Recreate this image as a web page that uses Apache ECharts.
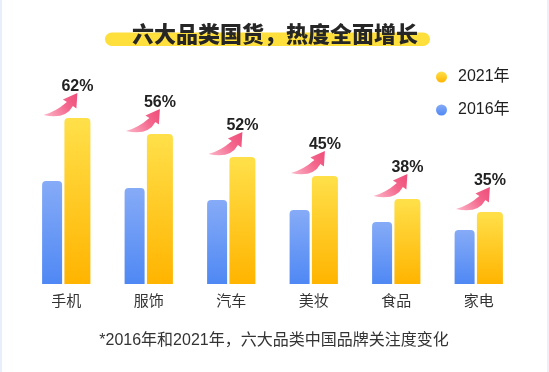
<!DOCTYPE html>
<html>
<head>
<meta charset="utf-8">
<script src="https://cdn.jsdelivr.net/npm/echarts@6/dist/echarts.min.js"></script>
<style>
html,body{margin:0;padding:0;background:#fff;}
#c{width:549px;height:372px;}
</style>
</head>
<body>
<div id="c"></div>
<script>
const categories = ['手机', '服饰', '汽车', '美妆', '食品', '家电'];
const values2016 = [103, 96, 84, 74, 62, 54];
const values2021 = [166, 150, 127, 108, 85, 72];
const growth = [62, 56, 52, 45, 38, 35];
const seriesNames = ['2021年', '2016年'];
const titleText = '六大品类国货，热度全面增长';
const noteText = '*2016年和2021年，六大品类中国品牌关注度变化';

const FONT = '"Liberation Sans", "Noto Sans CJK SC", sans-serif';
const BLUE_W = 20, YEL_W = 26, GAP_PCT = 0.115;
const yellowOffset = (BLUE_W + BLUE_W * GAP_PCT + YEL_W) / 2 - YEL_W / 2;

const blueGrad = new echarts.graphic.LinearGradient(0, 0, 0, 1, [
  {offset: 0, color: '#86abf7'}, {offset: 1, color: '#4f88f4'}]);
const yelGrad = new echarts.graphic.LinearGradient(0, 0, 0, 1, [
  {offset: 0, color: '#ffe04a'}, {offset: 1, color: '#ffb400'}]);

const chart = echarts.init(document.getElementById('c'));
chart.setOption({
  backgroundColor: '#ffffff',
  animation: false,
  textStyle: {fontFamily: FONT},
  grid: {left: 25, right: 29, top: 84, bottom: 88, containLabel: false},
  legend: {
    orient: 'vertical', left: 431, top: 64,
    data: seriesNames,
    icon: 'circle', itemWidth: 11, itemHeight: 11, itemGap: 17,
    textStyle: {fontSize: 16, color: '#1e1e1e', fontFamily: FONT, padding: [0, 0, 0, 6]}
  },
  xAxis: {
    type: 'category', data: categories,
    axisLine: {show: false}, axisTick: {show: false},
    axisLabel: {fontSize: 15, color: '#333', margin: 10, fontFamily: FONT}
  },
  yAxis: {
    type: 'value', min: 0, max: 200,
    show: false, splitLine: {show: false}
  },
  graphic: [
    {type: 'rect', left: 0, top: 0, shape: {x: 0, y: 0, width: 2, height: 372}, style: {fill: '#e8eefb'}},
    {type: 'rect', right: 0, top: 0, shape: {x: 0, y: 0, width: 2, height: 372}, style: {fill: '#f1eef9'}},
    {type: 'rect', shape: {x: 105, y: 32.5, width: 325, height: 13.5, r: 6.75}, style: {fill: '#ffdf3c'}},
    {type: 'text', x: 275, y: 36, style: {text: titleText, font: '900 22px ' + FONT, fill: '#262626', align: 'center', verticalAlign: 'middle'}},
    {type: 'text', x: 274, y: 341, style: {text: noteText, font: '16px ' + FONT, fill: '#333', align: 'center', verticalAlign: 'middle'}}
  ],
  series: [
    {
      name: '2016年', type: 'bar', data: values2016,
      barWidth: BLUE_W, barGap: (GAP_PCT * 100) + '%',
      itemStyle: {color: blueGrad, borderRadius: [4, 4, 0, 0]}
    },
    {
      name: '2021年', type: 'bar', data: values2021,
      barWidth: YEL_W,
      itemStyle: {color: yelGrad, borderRadius: [4, 4, 0, 0]},
      label: {
        show: true, position: 'top', distance: 23,
        formatter: p => growth[p.dataIndex] + '%',
        fontSize: 16, fontWeight: 'bold', color: '#222', fontFamily: FONT
      }
    },
    {
      type: 'custom', coordinateSystem: 'cartesian2d', silent: true,
      data: values2021.map((v, i) => [i, v]),
      renderItem: function (params, api) {
        const p = api.coord([api.value(0), api.value(1)]);
        const cx = p[0] + yellowOffset, cy = p[1];
        const pts = (dx, dy) => (cx + dx) + ',' + (cy + dy);
        const path = 'M' + pts(-34, -3) +
          ' Q' + pts(-12, 2) + ' ' + pts(-4.5, -12) +
          ' L' + pts(-1, -9.5) +
          ' L' + pts(0, -25) +
          ' L' + pts(-14.5, -18.5) +
          ' L' + pts(-10.5, -16) +
          ' Q' + pts(-22, -6) + ' ' + pts(-34, -3) + ' Z';
        return {
          type: 'path',
          shape: {pathData: path},
          style: {
            fill: new echarts.graphic.LinearGradient(0, 1, 1, 0, [
              {offset: 0, color: '#fcb8ca'}, {offset: 0.6, color: '#f4678d'}, {offset: 1, color: '#ee4d78'}])
          }
        };
      }
    }
  ]
});
</script>
</body>
</html>
